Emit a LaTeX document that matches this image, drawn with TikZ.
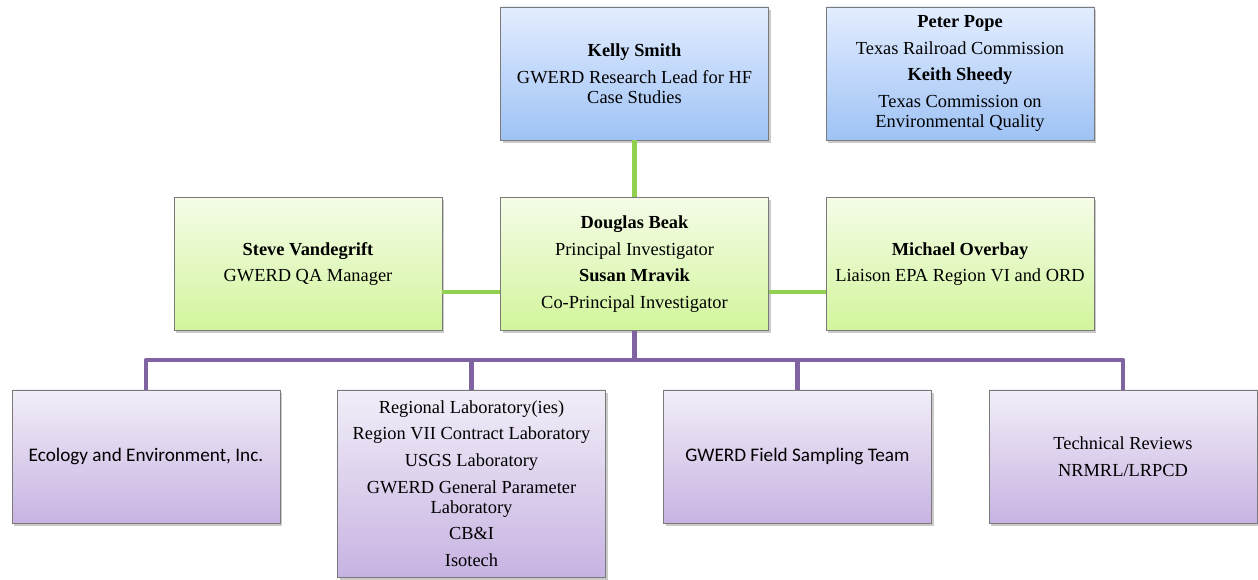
\documentclass[tikz,border=0pt]{standalone}
\usepackage{fontspec}
\setmainfont{Liberation Serif}
\newfontfamily\calfont{Carlito}
\usetikzlibrary{shadows}
\definecolor{bluetop}{HTML}{E3EDFF}
\definecolor{bluebot}{HTML}{9EC2F5}
\definecolor{greentop}{HTML}{F5FCE8}
\definecolor{greenbot}{HTML}{D3F59C}
\definecolor{purptop}{HTML}{F2EEF8}
\definecolor{purpbot}{HTML}{C7B3E2}
\definecolor{boxline}{HTML}{7A7A7A}
\definecolor{greenline}{HTML}{92D050}
\definecolor{purpline}{HTML}{8064A2}
\newcommand{\calibri}{\calfont\fontsize{14.4}{17}\selectfont}
\tikzset{
  orgbox/.style={rectangle, draw=boxline, line width=0.6pt, align=center,
    minimum width=201pt, minimum height=99.75pt, inner sep=2pt,
    font=\fontsize{13.8}{15}\selectfont,
    drop shadow={shadow xshift=1.5pt, shadow yshift=-2pt, opacity=0.35, fill=black!60}},
  bluebox/.style={orgbox, top color=bluetop, bottom color=bluebot},
  greenbox/.style={orgbox, top color=greentop, bottom color=greenbot},
  purpbox/.style={orgbox, top color=purptop, bottom color=purpbot},
  gline/.style={draw=greenline, line width=3.6pt},
  pline/.style={draw=purpline, line width=3.6pt, line join=round}
}
\begin{document}
\begin{tikzpicture}[x=0.75pt, y=-0.75pt]
\useasboundingbox (0,0) rectangle (1258,580);
\coordinate (bus) at (634.5,360);
\coordinate (b1) at (146,360);
\coordinate (b2) at (471.5,360);
\coordinate (b3) at (797.5,360);
\coordinate (b4) at (1123,360);

\node[bluebox] (kelly) at (634.5,73.5) {\textbf{Kelly Smith}\\[5pt]GWERD Research Lead for HF\\Case Studies};
\node[bluebox] (peter) at (960,73.5) {\textbf{Peter Pope}\\[5pt]Texas Railroad Commission\\[5pt]\textbf{Keith Sheedy}\\[5pt]Texas Commission on\\Environmental Quality};

\node[greenbox] (steve) at (308,264) {\textbf{Steve Vandegrift}\\[5pt]GWERD QA Manager};
\node[greenbox] (doug) at (634.5,264) {\textbf{Douglas Beak}\\[5pt]Principal Investigator\\[5pt]\textbf{Susan Mravik}\\[5pt]Co-Principal Investigator};
\node[greenbox] (mike) at (960,264) {\textbf{Michael Overbay}\\[5pt]Liaison EPA Region VI and ORD};

\node[purpbox] (eco) at (146,456.5) {\calibri Ecology and Environment, Inc.};
\node[purpbox, minimum height=140.25pt] (lab) at (471.5,483.5) {Regional Laboratory(ies)\\[5pt]Region VII Contract Laboratory\\[5pt]USGS Laboratory\\[5pt]GWERD General Parameter\\Laboratory\\[5pt]CB\&I\\[5pt]Isotech};
\node[purpbox] (field) at (797.5,456.5) {\calibri GWERD Field Sampling Team};
\node[purpbox] (tech) at (1123,456.5) {Technical Reviews\\[5pt]NRMRL/LRPCD};

\draw[gline] (kelly.south) -- (doug.north);
\draw[gline] (steve.east |- 0,292) -- (doug.west |- 0,292);
\draw[gline] (doug.east |- 0,292) -- (mike.west |- 0,292);
\draw[pline] (doug.south) -- (bus);
\draw[pline] (eco.north) -- (b1) -- (b4) -- (tech.north);
\draw[pline] (lab.north) -- (b2);
\draw[pline] (field.north) -- (b3);
\end{tikzpicture}
\end{document}
